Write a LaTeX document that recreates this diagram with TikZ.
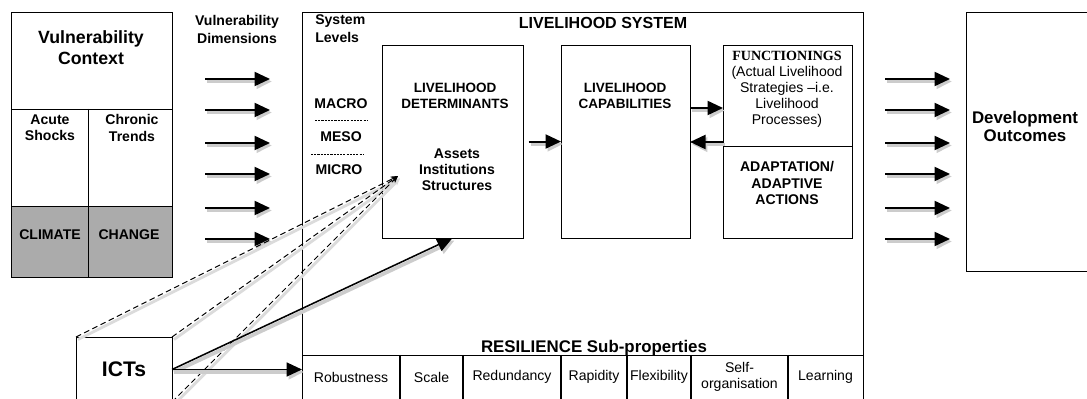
\documentclass[tikz,border=0pt]{standalone}
\usepackage{fontspec}
\setmainfont{Liberation Sans}
\newfontfamily\timesfont{Liberation Serif}
\usetikzlibrary{arrows.meta,positioning}

\tikzset{
  box/.style={draw,line width=0.7pt,inner sep=0pt,outer sep=0pt,anchor=north west},
  lbl/.style={font=\bfseries\fontsize{10}{11.5}\selectfont,align=center,inner sep=0pt},
  txt/.style={font=\fontsize{10}{11.5}\selectfont,align=center,inner sep=0pt},
  flow/.style={-{Triangle[length=11pt,width=10pt]},line width=1.4pt,
    preaction={draw=black!20,line width=2.6pt,transform canvas={shift={(1.4pt,-1.8pt)}}}},
  link/.style={dash pattern=on 4pt off 2.5pt,line width=0.7pt,-{Stealth[length=5pt,width=4pt]},
    preaction={draw=black!14,line width=2pt,solid,transform canvas={shift={(1.4pt,-1.8pt)}}}},
}

\begin{document}
\begin{tikzpicture}[x=0.025cm,y=-0.025cm]
\useasboundingbox (0,0) rectangle (1087,399);
\clip (0,0) rectangle (1087,399);

\fill[black!33] (11,206) rectangle (172,277);
\node[box,minimum width=4.025cm,minimum height=6.625cm] (vc) at (11,12) {};
\draw[line width=0.7pt] (11,109) -- (172,109);
\draw[line width=0.7pt] (11,206) -- (172,206);
\draw[line width=0.7pt] (88,109) -- (88,277);
\node[lbl,font=\bfseries\fontsize{12.6}{15}\selectfont] (vctitle) at (91,48) {Vulnerability\\Context};
\node[lbl] (acute) at (50,128) {Acute\\Shocks};
\node[lbl] (chronic) at (132,128) {Chronic\\Trends};
\node[lbl] (climate) at (50,235) {CLIMATE};
\node[lbl] (change) at (129,235) {CHANGE};

\node[lbl,font=\bfseries\fontsize{10}{12.8}\selectfont] (vdim) at (237,29) {Vulnerability\\Dimensions};
\foreach \y [count=\i] in {79,110,143,174,208,239} {
  \coordinate (vd\i s) at (205,\y);
  \coordinate (vd\i e) at (270,\y);
  \draw[flow] (vd\i s) -- (vd\i e);
}

\node[box,minimum width=14.025cm,minimum height=10cm] (ls) at (302,12) {};
\node[lbl,align=left,anchor=west,font=\bfseries\fontsize{10}{12.8}\selectfont] (levels) at (315,29) {System\\Levels};
\node[lbl,font=\bfseries\fontsize{11.4}{13}\selectfont] (lstitle) at (603,23) {LIVELIHOOD SYSTEM};
\node[lbl] (macro) at (341,104) {MACRO};
\draw[dash pattern=on 1.5pt off 0.8pt,line width=0.6pt] (315,120) -- (367,120);
\node[lbl] (meso) at (341,137) {MESO};
\draw[dash pattern=on 1.5pt off 0.8pt,line width=0.6pt] (311,154) -- (363,154);
\node[lbl] (micro) at (339,170) {MICRO};

\node[box,minimum width=3.525cm,minimum height=4.825cm] (det) at (382,45) {};
\node[lbl,font=\bfseries\fontsize{9.6}{11.4}\selectfont] (dettitle) at (455,96) {LIVELIHOOD\\DETERMINANTS};
\node[lbl] (detitems) at (457,170) {Assets\\Institutions\\Structures};

\node[box,minimum width=3.225cm,minimum height=4.825cm] (cap) at (561,45) {};
\node[lbl,font=\bfseries\fontsize{9.6}{11.4}\selectfont] (captitle) at (625,96) {LIVELIHOOD\\CAPABILITIES};

\node[box,minimum width=3.225cm,minimum height=4.825cm] (fun) at (723,45) {};
\draw[line width=0.7pt] (723,146) -- (852,146);
\node[lbl,font=\timesfont\bfseries\fontsize{10}{11.5}\selectfont] (funtitle) at (787,56) {FUNCTIONINGS};
\node[txt] (funtext) at (787,97) {(Actual Livelihood\\Strategies \textendash i.e.\\Livelihood\\Processes)};
\node[lbl] (adapt) at (787,183) {ADAPTATION/\\ADAPTIVE\\ACTIONS};

\draw[flow,shorten <=4pt] (det.east) -- (cap.west);
\draw[flow] (cap.east |- 0,108) -- (fun.west |- 0,108);
\draw[flow] (fun.west |- 0,142) -- (cap.east |- 0,142);

\foreach \y [count=\i] in {79,110,143,174,208,239} {
  \coordinate (do\i s) at (885,\y);
  \coordinate (do\i e) at (950,\y);
  \draw[flow] (do\i s) -- (do\i e);
}

\node[box,minimum width=3.35cm,minimum height=6.475cm] (dev) at (966,12) {};
\node[lbl,font=\bfseries\fontsize{12}{12.8}\selectfont] (devtitle) at (1025,126) {Development\\Outcomes};

\node[lbl,font=\bfseries\fontsize{12}{14}\selectfont] (restitle) at (594,348) {RESILIENCE Sub-properties};
\draw[line width=0.7pt] (302,355) -- (863,355);
\foreach \x in {400,463,561,627,691,788}
  \draw[line width=1pt] (\x,355) -- (\x,412);
\foreach \x/\t [count=\i] in {351/Robustness,431.5/Scale,512/Redundancy,594/Rapidity,659/Flexibility,739.5/{Self-\\organisation},825.5/Learning}
  \node[txt] (res\i) at (\x,377) {\t};

\node[box,minimum width=2.4cm,minimum height=1.625cm] (ict) at (76,337) {};
\node[lbl,font=\bfseries\fontsize{15}{17}\selectfont] (icttitle) at (ict.center) {ICTs};
\coordinate (conv) at (398,176);
\draw[link] (ict.north west) -- (conv);
\draw[link] (ict.north east) -- (conv);
\draw[link] (ict.south east) -- (conv);
\draw[flow,line width=1.1pt] (ict.east) -- (det.south);
\draw[flow,line width=1.1pt] (ict.east) -- (ict.east -| ls.west);
\end{tikzpicture}
\end{document}
